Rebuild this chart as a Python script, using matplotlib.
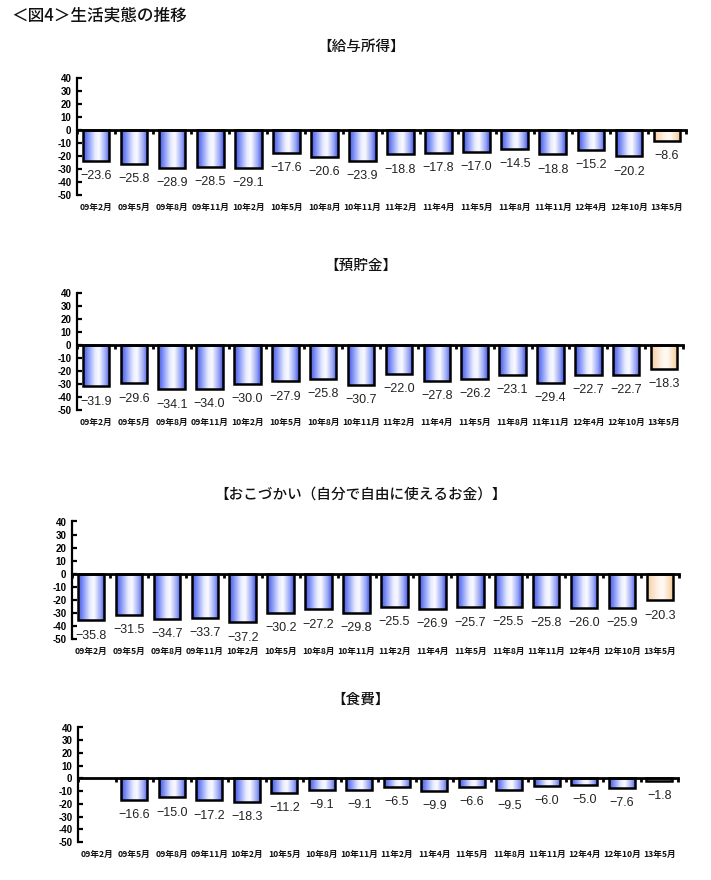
import numpy as np
import matplotlib
matplotlib.use("Agg")
import matplotlib.pyplot as plt
import matplotlib.transforms as mtransforms

plt.rcParams['font.family'] = ['Noto Sans CJK JP', 'DejaVu Sans']

categories = ["09年2月", "09年5月", "09年8月", "09年11月", "10年2月", "10年5月",
              "10年8月", "10年11月", "11年2月", "11年4月", "11年5月", "11年8月",
              "11年11月", "12年4月", "12年10月", "13年5月"]

salary = [-23.6, -25.8, -28.9, -28.5, -29.1, -17.6, -20.6, -23.9,
          -18.8, -17.8, -17.0, -14.5, -18.8, -15.2, -20.2, -8.6]
savings = [-31.9, -29.6, -34.1, -34.0, -30.0, -27.9, -25.8, -30.7,
           -22.0, -27.8, -26.2, -23.1, -29.4, -22.7, -22.7, -18.3]
allowance = [-35.8, -31.5, -34.7, -33.7, -37.2, -30.2, -27.2, -29.8,
             -25.5, -26.9, -25.7, -25.5, -25.8, -26.0, -25.9, -20.3]
food = [np.nan, -16.6, -15.0, -17.2, -18.3, -11.2, -9.1, -9.1,
        -6.5, -9.9, -6.6, -9.5, -6.0, -5.0, -7.6, -1.8]

panel_titles = ["【給与所得】", "【預貯金】", "【おこづかい（自分で自由に使えるお金）】", "【食費】"]
fig_title = "＜図4＞生活実態の推移"
yticks = [40, 30, 20, 10, 0, -10, -20, -30, -40, -50]

W, H = 711, 880
fig = plt.figure(figsize=(W / 100, H / 100), dpi=100)
fig.patch.set_facecolor('white')

# axes boxes in pixels: left, right, top(40), bottom(-50)
boxes = [(77, 686, 78, 195), (77, 683, 293, 410), (72, 679, 521.5, 639), (78, 678, 727.5, 842)]
title_y = [47, 266, 495, 700]


def make_grad(stops, colors, n=64):
    t = np.linspace(0, 1, n)
    cols = np.array(colors, dtype=float) / 255.0
    out = np.zeros((1, n, 3))
    for c in range(3):
        out[0, :, c] = np.interp(t, stops, cols[:, c])
    return out


blue_grad = make_grad([0, 0.12, 0.45, 0.6, 0.85, 1.0],
                      [(70, 88, 232), (105, 125, 242), (232, 236, 255),
                       (250, 250, 255), (150, 165, 245), (70, 88, 232)])
orange_grad = make_grad([0, 0.12, 0.45, 0.6, 0.85, 1.0],
                        [(242, 200, 150), (248, 218, 185), (255, 246, 236),
                         (255, 250, 245), (248, 220, 185), (240, 196, 140)])

datasets = [salary, savings, allowance, food]
x = np.arange(len(categories))

fig.text(11 / W, 1 - 16 / H, fig_title, fontsize=12, fontweight='medium',
         ha='left', va='center', color='#111111')

for i, vals in enumerate(datasets):
    l, r, t, b = boxes[i]
    ax = fig.add_axes([l / W, 1 - b / H, (r - l) / W, (b - t) / H])
    ax.set_facecolor('none')
    vals = np.array(vals, dtype=float)
    bars = ax.bar(x, vals, width=0.7, facecolor='none', edgecolor='black',
                  linewidth=1.8, zorder=3)
    for j, bar in enumerate(bars):
        v = vals[j]
        if np.isnan(v):
            continue
        bx, bw = bar.get_x(), bar.get_width()
        by, bh = bar.get_y(), bar.get_height()
        grad = orange_grad if j == len(vals) - 1 else blue_grad
        im = ax.imshow(grad, extent=[bx, bx + bw, by + bh, by], aspect='auto',
                       interpolation='bilinear', zorder=2)
        im.set_clip_path(bar)
        ax.annotate(f"{v:.1f}".replace('-', '−'), xy=(j, v), xytext=(0, -11),
                    textcoords='offset points', ha='center', va='center',
                    fontsize=9, color='#222222', family=['Liberation Sans', 'DejaVu Sans'])
    ax.set_xlim(-0.5, len(categories) - 0.5)
    ax.set_ylim(-50, 40)
    for s in ['top', 'right']:
        ax.spines[s].set_visible(False)
    ax.spines['bottom'].set_position(('data', 0))
    ax.spines['bottom'].set_linewidth(2.0)
    ax.spines['bottom'].set_zorder(4)
    ax.spines['left'].set_linewidth(1.6)
    ax.set_xticks(np.arange(-0.5, len(categories), 1.0))
    ax.set_xticklabels([])
    ax.tick_params(axis='x', direction='out', length=3, width=2.0)
    ax.set_yticks(yticks)
    ax.set_yticklabels([str(v) for v in yticks], fontsize=7, fontweight='bold',
                       family='Liberation Sans')
    ax.tick_params(axis='y', direction='in', length=3.5, width=1.6, pad=4)
    trans = mtransforms.blended_transform_factory(ax.transData, ax.transAxes)
    for j, c in enumerate(categories):
        ax.annotate(c, xy=(j, 0), xycoords=trans, xytext=(0, -9),
                    textcoords='offset points', ha='center', va='center',
                    fontsize=6.2, fontweight='bold', color='#111111')
    fig.text(361 / W, 1 - title_y[i] / H, panel_titles[i], fontsize=10.5,
             fontweight='medium', ha='center', va='center', color='#111111')

fig.savefig("out.png", dpi=100, facecolor='white')
